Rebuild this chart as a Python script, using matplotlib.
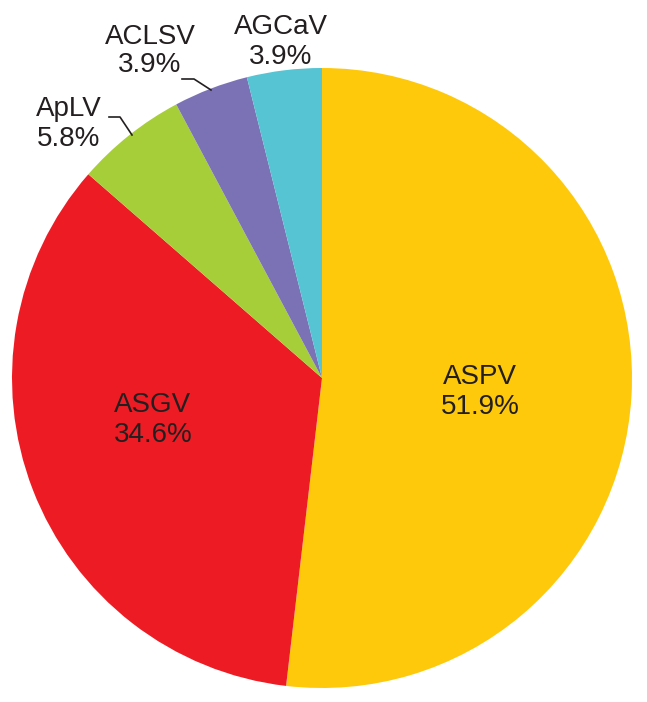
import matplotlib
matplotlib.use("Agg")
import matplotlib.pyplot as plt

labels = ["ASPV", "ASGV", "ApLV", "ACLSV", "AGCaV"]
values = [51.9, 34.6, 5.8, 3.9, 3.9]
colors = ["#FFC90B", "#ED1C24", "#A6CE39", "#7A72B4", "#56C4D2"]

W, H = 647, 702
fig = plt.figure(figsize=(W / 100, H / 100), dpi=100)
ax = fig.add_axes([0, 0, 1, 1])
ax.set_xlim(0, W)
ax.set_ylim(0, H)
ax.set_aspect("equal")
ax.axis("off")

cx, cy, r = 322, H - 378, 310
ax.pie(values, colors=colors, startangle=90, counterclock=False,
       center=(cx, cy), radius=r, wedgeprops=dict(linewidth=0))
ax.set_xlim(0, W)
ax.set_ylim(0, H)

tc = "#231F20"
font = dict(family=["Liberation Sans", "DejaVu Sans"], fontsize=20, color=tc,
            ha="center", va="center", linespacing=1.15)
pos = {"ASPV": (480, 392), "ASGV": (153, 420), "ApLV": (69, 124),
       "ACLSV": (150, 51), "AGCaV": (281, 42)}
for lab, v in zip(labels, values):
    x, y = pos[lab]
    ax.text(x, H - y, f"{lab}\n{v:.1f}%", **font)

# leader lines
ax.plot([182, 194, 211], [H - 79, H - 79, H - 90], color=tc, lw=1.2)
ax.plot([109, 120, 132], [H - 117, H - 117, H - 135], color=tc, lw=1.2)

fig.savefig("out.png", dpi=100)
